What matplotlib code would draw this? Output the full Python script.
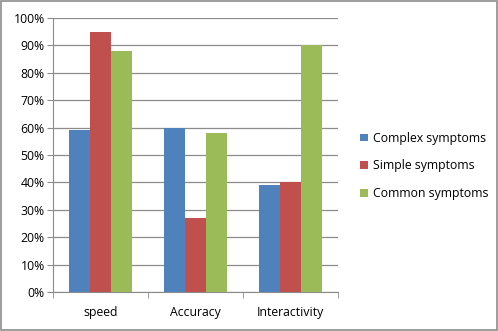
import numpy as np
import matplotlib.pyplot as plt
from matplotlib.patches import Rectangle
from matplotlib.ticker import PercentFormatter

categories = ["speed", "Accuracy", "Interactivity"]
series_names = ["Complex symptoms", "Simple symptoms", "Common symptoms"]
complex_vals = [59, 60, 39]
simple_vals = [95, 27, 40]
common_vals = [88, 58, 90]
colors = ["#4F81BD", "#C0504D", "#9BBB59"]

plt.rcParams['font.family'] = ['Open Sans', 'DejaVu Sans']

fig = plt.figure(figsize=(4.98, 3.31), dpi=100)
ax = fig.add_axes([53 / 498, 1 - 292 / 331, 285 / 498, 274 / 331])

x = np.arange(len(categories))
w = 0.224
for i, (name, vals) in enumerate(zip(series_names, [complex_vals, simple_vals, common_vals])):
    ax.bar(x + (i - 1) * w, vals, w, color=colors[i], label=name, zorder=3)

ax.set_xlim(-0.5, 2.5)
ax.set_ylim(0, 100)
ax.set_yticks(range(0, 101, 10))
ax.yaxis.set_major_formatter(PercentFormatter(decimals=0))
ax.grid(axis='y', color='#8c8c8c', linewidth=0.9, zorder=0)

ax.set_xticks(x)
ax.set_xticklabels(categories)
ax.set_xticks([-0.5, 0.5, 1.5, 2.5], minor=True)
ax.tick_params(axis='x', which='major', length=0, pad=10, labelsize=8.8)
ax.tick_params(axis='x', which='minor', length=4, color='#8c8c8c')
ax.tick_params(axis='y', length=4, color='#8c8c8c', labelsize=8.8, pad=2)

for s in ['top', 'right']:
    ax.spines[s].set_visible(False)
for s in ['left', 'bottom']:
    ax.spines[s].set_color('#8c8c8c')

ax.legend(loc='center left', bbox_to_anchor=(1.04, 0.46), frameon=False,
          fontsize=8.8, handlelength=0.6, handleheight=0.6, handletextpad=0.4,
          labelspacing=1.2)

fig.patches.append(Rectangle((0.002, 0.003), 0.996, 0.994, transform=fig.transFigure,
                             fill=False, edgecolor='#8c8c8c', linewidth=1.2))

fig.savefig("out.png", dpi=100)
